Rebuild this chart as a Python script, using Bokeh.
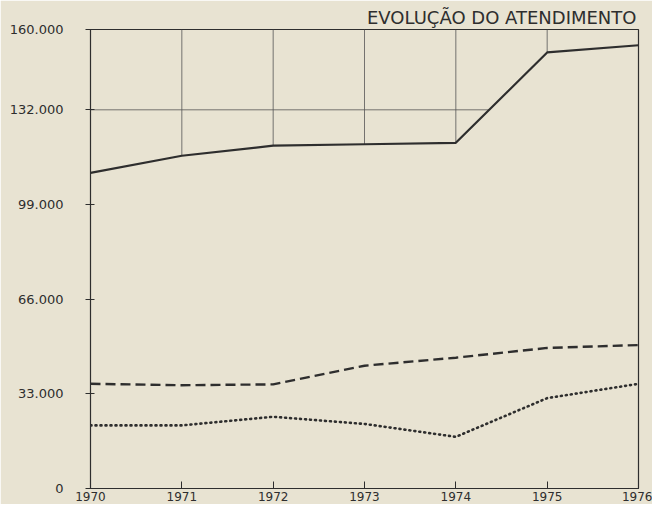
from bokeh.plotting import figure
from bokeh.models import FixedTicker, Range1d
from bokeh.embed import file_html
from bokeh.resources import INLINE
import numpy as np

years = [1970, 1971, 1972, 1973, 1974, 1975, 1976]
total = [110000, 116000, 119500, 120000, 120500, 152000, 154500]
dashed = [36500, 36000, 36300, 42800, 45600, 49000, 50000]
dotted = [22000, 22000, 25000, 22500, 18000, 31500, 36500]
y_ticks = [0, 33000, 66000, 99000, 132000, 160000]
y_labels = ["0", "33.000", "66.000", "99.000", "132.000", "160.000"]
title_text = "EVOLUÇÃO DO ATENDIMENTO"

BG = "#e8e3d2"
INK = "#2e2e2e"
FONT = "DejaVu Sans"

p = figure(width=652, height=504, output_backend="svg", toolbar_location=None,
           x_range=Range1d(1970, 1976), y_range=Range1d(0, 160000),
           min_border_left=90, min_border_right=14, min_border_top=29, min_border_bottom=16,
           background_fill_color=BG, border_fill_color=BG)

p.title.text = title_text
p.title.align = "right"
p.title.text_font = FONT
p.title.text_font_size = "18px"
p.title.text_font_style = "normal"
p.title.text_color = INK
p.title.standoff = 4
p.title.offset = 2

p.xgrid.visible = False
p.ygrid.visible = False
p.outline_line_color = INK
p.outline_line_width = 1.2

# partial grid above the total line
for x, yv in zip(years[1:-1], total[1:-1]):
    p.segment(x0=x, y0=160000, x1=x, y1=yv, line_color="#555555", line_width=0.8)
# horizontal 132.000 line up to the total curve
g = y_ticks[4]
xi = float(np.interp(g, total, years))
p.segment(x0=years[0], y0=g, x1=xi, y1=g, line_color="#555555", line_width=0.8)

p.line(years, total, line_color=INK, line_width=2.2)
p.line(years, dashed, line_color=INK, line_width=2.4, line_dash="10 5")
p.line(years, dotted, line_color=INK, line_width=2.6, line_dash="1 4", line_cap="round")

ya = p.yaxis[0]
ya.ticker = FixedTicker(ticks=y_ticks)
ya.major_label_overrides = {t: l for t, l in zip(y_ticks, y_labels)}
ya.major_tick_in = 4
ya.major_tick_out = 5
ya.minor_tick_line_color = None
ya.major_label_standoff = 22
ya.major_label_text_font = FONT
ya.major_label_text_font_size = "13px"
ya.major_label_text_color = INK
ya.axis_line_color = INK
ya.major_tick_line_color = INK

xa = p.xaxis[0]
xa.ticker = FixedTicker(ticks=years)
xa.major_tick_in = 7
xa.major_tick_out = 0
xa.minor_tick_line_color = None
xa.major_label_standoff = 3
xa.major_label_text_font = FONT
xa.major_label_text_font_size = "12px"
xa.major_label_text_color = INK
xa.axis_line_color = INK
xa.major_tick_line_color = INK

open("out.html", "w").write(file_html(p, INLINE))
